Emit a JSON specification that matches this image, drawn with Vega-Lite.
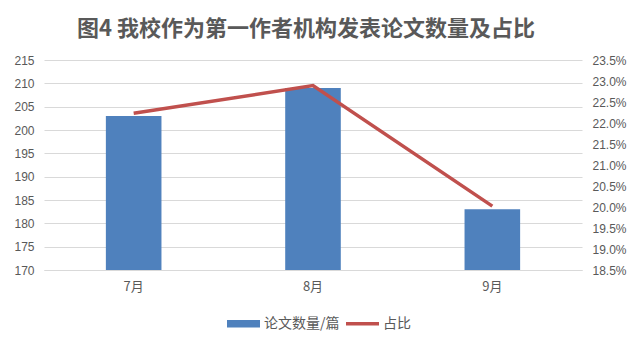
{
  "$schema": "https://vega.github.io/schema/vega-lite/v6.json",
  "width": 538,
  "height": 210,
  "autosize": {"type": "none"},
  "padding": {"left": 44, "top": 60, "right": 57, "bottom": 79},
  "background": "white",
  "title": {
    "text": "图4 我校作为第一作者机构发表论文数量及占比",
    "font": "Noto Sans CJK SC",
    "fontSize": 22,
    "fontWeight": "bold",
    "color": "#595959",
    "anchor": "middle",
    "dx": -7,
    "offset": 13
  },
  "data": {
    "values": [
      {"month": "7月", "count": 203, "ratio": 0.2223},
      {"month": "8月", "count": 209, "ratio": 0.2289},
      {"month": "9月", "count": 183, "ratio": 0.2002}
    ]
  },
  "encoding": {
    "x": {
      "field": "month",
      "type": "nominal",
      "sort": null,
      "scale": {"paddingInner": 0.69, "paddingOuter": 0.345},
      "axis": {
        "title": null,
        "labelAngle": 0,
        "ticks": false,
        "domain": true,
        "domainColor": "#D9D9D9",
        "labelPadding": 10,
        "labelFont": "Noto Sans CJK SC",
        "labelFontSize": 13,
        "labelColor": "#595959"
      }
    }
  },
  "layer": [
    {
      "mark": {"type": "bar", "clip": true},
      "encoding": {
        "y": {
          "field": "count",
          "type": "quantitative",
          "scale": {"domain": [170, 215], "zero": false, "nice": false},
          "axis": {
            "title": null,
            "values": [170, 175, 180, 185, 190, 195, 200, 205, 210, 215],
            "ticks": false,
            "domain": false,
            "grid": true,
            "gridColor": "#D9D9D9",
            "gridWidth": 1,
            "labelPadding": 10,
            "labelFont": "Liberation Sans",
            "labelFontSize": 12,
            "labelColor": "#595959"
          }
        },
        "color": {
          "datum": "论文数量/篇",
          "type": "nominal",
          "scale": {"domain": ["论文数量/篇", "占比"], "range": ["#4F81BD", "#C0504D"]},
          "legend": {
            "title": null,
            "orient": "none",
            "legendX": 183,
            "legendY": 247,
            "direction": "horizontal",
            "symbolSize": 1089,
            "labelFont": "Noto Sans CJK SC",
            "labelFontSize": 14,
            "labelColor": "#595959",
            "labelOffset": 4,
            "columnPadding": 6,
            "encode": {
              "symbols": {
                "update": {
                  "shape": [
                    {"test": "datum.label === '占比'", "value": "M-1,-0.1H1V0.1H-1Z"},
                    {"value": "M-1,-0.22H1V0.22H-1Z"}
                  ],
                  "fill": {"scale": "color", "field": "value"},
                  "stroke": {"value": "transparent"},
                  "strokeWidth": {"value": 0},
                  "opacity": {"value": 1}
                }
              }
            }
          }
        }
      }
    },
    {
      "mark": {"type": "line", "strokeWidth": 3.5},
      "encoding": {
        "y": {
          "field": "ratio",
          "type": "quantitative",
          "scale": {"domain": [0.185, 0.235], "zero": false, "nice": false},
          "axis": {
            "title": null,
            "orient": "right",
            "format": ".1%",
            "values": [0.185, 0.19, 0.195, 0.2, 0.205, 0.21, 0.215, 0.22, 0.225, 0.23, 0.235],
            "ticks": false,
            "domain": false,
            "grid": false,
            "labelPadding": 10,
            "labelFont": "Liberation Sans",
            "labelFontSize": 12,
            "labelColor": "#595959"
          }
        },
        "color": {"datum": "占比", "type": "nominal", "legend": null}
      }
    }
  ],
  "resolve": {"scale": {"y": "independent"}},
  "config": {"view": {"stroke": null}}
}
